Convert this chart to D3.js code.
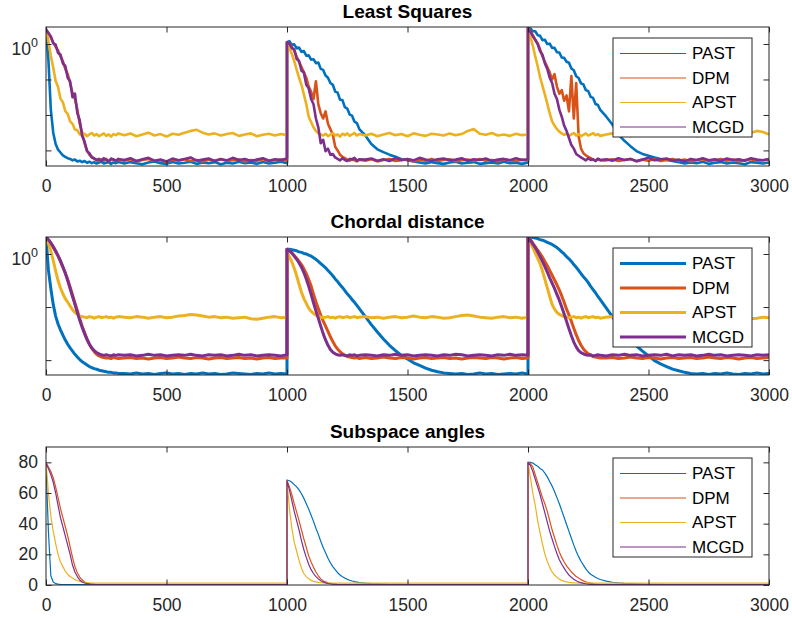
<!DOCTYPE html>
<html>
<head>
<meta charset="utf-8">
<script src="https://cdn.jsdelivr.net/npm/d3@7"></script>
<style>
    html, body { margin: 0; padding: 0; background: #fff; }
    svg { display: block; font-family: "Liberation Sans", Arial, Helvetica, sans-serif; }
    .tick text { font-size: 17.5px; fill: #262626; }
    .tick line { stroke: #262626; }
    .ylab { font-size: 17.5px; fill: #262626; }
    .title { font-size: 19px; font-weight: bold; fill: #000; }
    .legend-label { font-size: 17px; fill: #000; }
</style>
</head>
<body>
<svg id="chart" width="792" height="618"></svg>
<script>
"use strict";

// iteration offsets inside one block of 1000 samples (the subspace jumps at 1000 and 2000)
const blockOffsets = [0, 10, 20, 30, 40, 50, 60, 70, 80, 90, 100, 110, 120, 130, 140, 150, 160, 170, 180, 190, 200,
    210, 220, 230, 240, 250, 260, 270, 280, 290, 300,
    325, 350, 375, 400, 425, 450, 475, 500, 525, 550, 575, 600, 625, 650, 675, 700, 725, 750, 775, 800,
    825, 850, 875, 900, 925, 950, 975, 1000];
const blockStarts = [0, 1000, 2000];
const xTicks = [0, 500, 1000, 1500, 2000, 2500, 3000];
const seriesNames = ["PAST", "DPM", "APST", "MCGD"];
const seriesColors = ["#0072BD", "#D95319", "#EDB120", "#7E2F8E"];

// Least Squares error, log10 values, one row per block
const lsPAST = [
    [0.40, -0.45, -1.85, -2.50, -2.82, -2.98, -3.06, -3.14, -3.18, -3.22, -3.24, -3.28, -3.26, -3.31, -3.29, -3.33, -3.30, -3.35, -3.32, -3.36, -3.33, -3.37, -3.34, -3.32, -3.37, -3.35, -3.33, -3.38, -3.34, -3.36, -3.33,
     -3.37, -3.33, -3.36, -3.39, -3.34, -3.31, -3.36, -3.38, -3.33, -3.37, -3.35, -3.32, -3.38, -3.34, -3.36, -3.33, -3.39, -3.35, -3.37, -3.32, -3.36, -3.34, -3.38, -3.33, -3.37, -3.35, -3.32, -3.36],
    [0.05, 0.08, -0.02, -0.01, -0.12, -0.10, -0.22, -0.20, -0.33, -0.32, -0.44, -0.43, -0.54, -0.52, -0.70, -0.73, -0.89, -0.95, -1.10, -1.15, -1.34, -1.37, -1.57, -1.58, -1.78, -1.82, -1.99, -2.02, -2.19, -2.23, -2.40,
     -2.58, -2.82, -2.97, -3.05, -3.12, -3.18, -3.25, -3.28, -3.31, -3.34, -3.37, -3.33, -3.36, -3.38, -3.34, -3.32, -3.37, -3.35, -3.33, -3.38, -3.36, -3.34, -3.37, -3.32, -3.36, -3.35, -3.38, -3.34],
    [0.45, 0.44, 0.36, 0.36, 0.25, 0.23, 0.11, 0.12, 0.00, 0.01, -0.11, -0.11, -0.23, -0.24, -0.38, -0.39, -0.50, -0.53, -0.69, -0.74, -0.91, -0.96, -1.11, -1.14, -1.30, -1.33, -1.49, -1.52, -1.69, -1.72, -1.86,
     -2.05, -2.27, -2.55, -2.73, -2.88, -3.02, -3.10, -3.15, -3.20, -3.24, -3.27, -3.30, -3.33, -3.37, -3.34, -3.36, -3.32, -3.38, -3.35, -3.33, -3.37, -3.34, -3.36, -3.39, -3.33, -3.35, -3.37, -3.34]
];
const lsDPM = [
    [0.40, 0.32, 0.18, 0.05, -0.08, -0.18, -0.35, -0.48, -0.70, -0.85, -1.10, -1.38, -1.55, -1.85, -2.25, -2.50, -2.80, -3.00, -3.12, -3.18, -3.24, -3.26, -3.30, -3.25, -3.29, -3.24, -3.31, -3.27, -3.25, -3.30, -3.26,
     -3.29, -3.25, -3.31, -3.27, -3.24, -3.30, -3.28, -3.32, -3.26, -3.29, -3.25, -3.30, -3.27, -3.31, -3.26, -3.29, -3.24, -3.30, -3.28, -3.26, -3.31, -3.27, -3.29, -3.25, -3.30, -3.28, -3.26, -3.29],
    [0.05, 0.02, -0.08, -0.18, -0.35, -0.50, -0.65, -0.80, -0.95, -1.20, -1.35, -1.55, -1.05, -1.70, -1.95, -2.10, -1.90, -2.25, -2.40, -2.55, -2.90, -3.00, -3.12, -3.18, -3.22, -3.26, -3.29, -3.24, -3.28, -3.31, -3.26,
     -3.29, -3.25, -3.31, -3.27, -3.24, -3.30, -3.28, -3.25, -3.31, -3.27, -3.29, -3.24, -3.30, -3.27, -3.25, -3.31, -3.28, -3.26, -3.30, -3.24, -3.29, -3.27, -3.31, -3.25, -3.28, -3.30, -3.26, -3.29],
    [0.45, 0.36, 0.25, 0.12, 0.02, -0.15, -0.35, -0.50, -0.65, -0.80, -1.00, -0.85, -1.20, -1.40, -1.30, -1.60, -1.45, -1.90, -0.90, -2.10, -1.10, -2.60, -2.95, -3.08, -3.14, -3.18, -3.22, -3.26, -3.29, -3.25, -3.28,
     -3.28, -3.25, -3.30, -3.27, -3.24, -3.31, -3.26, -3.29, -3.25, -3.30, -3.27, -3.24, -3.29, -3.26, -3.31, -3.27, -3.25, -3.30, -3.28, -3.24, -3.29, -3.26, -3.31, -3.27, -3.25, -3.29, -3.28, -3.26]
];
const lsAPST = [
    [0.42, 0.08, -0.33, -0.66, -1.04, -1.21, -1.54, -1.64, -1.89, -1.97, -2.18, -2.25, -2.41, -2.43, -2.55, -2.55, -2.53, -2.60, -2.55, -2.51, -2.58, -2.54, -2.60, -2.56, -2.52, -2.59, -2.55, -2.61, -2.54, -2.57, -2.52,
     -2.57, -2.52, -2.60, -2.55, -2.50, -2.58, -2.54, -2.61, -2.53, -2.56, -2.50, -2.45, -2.42, -2.50, -2.55, -2.52, -2.58, -2.54, -2.51, -2.59, -2.55, -2.52, -2.60, -2.56, -2.53, -2.58, -2.54, -2.57],
    [0.03, -0.12, -0.28, -0.48, -0.72, -0.95, -1.15, -1.42, -1.70, -2.05, -2.20, -2.35, -2.45, -2.52, -2.55, -2.58, -2.53, -2.60, -2.56, -2.51, -2.58, -2.55, -2.61, -2.53, -2.57, -2.52, -2.59, -2.55, -2.51, -2.58, -2.54,
     -2.58, -2.53, -2.60, -2.55, -2.51, -2.57, -2.54, -2.60, -2.52, -2.56, -2.59, -2.53, -2.55, -2.58, -2.52, -2.57, -2.54, -2.45, -2.40, -2.53, -2.56, -2.51, -2.58, -2.55, -2.59, -2.53, -2.57, -2.55],
    [0.45, 0.20, -0.05, -0.35, -0.62, -0.93, -1.18, -1.42, -1.68, -1.95, -2.18, -2.30, -2.40, -2.47, -2.52, -2.56, -2.53, -2.59, -2.55, -2.51, -2.58, -2.54, -2.60, -2.56, -2.52, -2.58, -2.55, -2.51, -2.57, -2.54, -2.59,
     -2.55, -2.52, -2.58, -2.54, -2.60, -2.53, -2.57, -2.51, -2.56, -2.59, -2.53, -2.55, -2.58, -2.52, -2.56, -2.60, -2.54, -2.57, -2.52, -2.58, -2.55, -2.53, -2.59, -2.54, -2.50, -2.45, -2.48, -2.55]
];
const lsMCGD = [
    [0.42, 0.30, 0.22, 0.02, -0.02, -0.25, -0.30, -0.55, -0.62, -0.95, -1.05, -1.50, -1.40, -1.95, -2.15, -2.60, -2.75, -3.02, -3.08, -3.20, -3.22, -3.28, -3.24, -3.30, -3.22, -3.27, -3.31, -3.23, -3.26, -3.29, -3.24,
     -3.27, -3.22, -3.30, -3.25, -3.21, -3.29, -3.26, -3.31, -3.23, -3.28, -3.24, -3.20, -3.29, -3.26, -3.23, -3.30, -3.25, -3.28, -3.21, -3.27, -3.24, -3.30, -3.26, -3.22, -3.29, -3.25, -3.27, -3.23],
    [0.05, 0.02, -0.12, -0.15, -0.42, -0.48, -0.75, -0.80, -1.15, -1.25, -1.55, -1.70, -2.10, -2.35, -2.80, -2.70, -3.02, -2.95, -3.12, -3.10, -3.20, -3.24, -3.28, -3.22, -3.27, -3.30, -3.24, -3.26, -3.21, -3.29, -3.25,
     -3.26, -3.23, -3.29, -3.25, -3.30, -3.22, -3.27, -3.24, -3.28, -3.21, -3.26, -3.30, -3.25, -3.23, -3.28, -3.26, -3.22, -3.29, -3.25, -3.27, -3.23, -3.30, -3.26, -3.24, -3.28, -3.22, -3.27, -3.25],
    [0.45, 0.35, 0.22, 0.12, 0.00, -0.20, -0.30, -0.55, -0.70, -0.95, -1.10, -1.40, -1.55, -1.85, -2.05, -2.30, -2.45, -2.65, -2.85, -2.95, -3.10, -3.15, -3.20, -3.24, -3.28, -3.22, -3.27, -3.25, -3.30, -3.23, -3.27,
     -3.25, -3.29, -3.22, -3.27, -3.24, -3.30, -3.26, -3.21, -3.28, -3.25, -3.23, -3.29, -3.26, -3.31, -3.24, -3.27, -3.22, -3.28, -3.25, -3.30, -3.23, -3.27, -3.25, -3.29, -3.22, -3.26, -3.28, -3.24]
];

// Chordal distance, log10 values
const cdPAST = [
    [0.32, -0.30, -0.65, -0.95, -1.17, -1.32, -1.43, -1.53, -1.62, -1.70, -1.77, -1.83, -1.89, -1.94, -1.99, -2.03, -2.06, -2.09, -2.12, -2.14, -2.16, -2.17, -2.19, -2.20, -2.21, -2.22, -2.23, -2.23, -2.24, -2.24, -2.25,
     -2.25, -2.26, -2.24, -2.26, -2.25, -2.27, -2.25, -2.24, -2.26, -2.25, -2.27, -2.25, -2.26, -2.24, -2.26, -2.25, -2.27, -2.26, -2.24, -2.25, -2.26, -2.27, -2.25, -2.26, -2.24, -2.26, -2.25, -2.26],
    [0.09, 0.09, 0.08, 0.07, 0.06, 0.04, 0.03, 0.01, 0.00, -0.02, -0.04, -0.07, -0.10, -0.14, -0.18, -0.22, -0.26, -0.31, -0.36, -0.41, -0.47, -0.52, -0.58, -0.63, -0.69, -0.75, -0.80, -0.86, -0.91, -0.97, -1.03,
     -1.18, -1.33, -1.47, -1.60, -1.72, -1.82, -1.91, -1.98, -2.05, -2.10, -2.15, -2.19, -2.22, -2.24, -2.25, -2.26, -2.25, -2.27, -2.26, -2.24, -2.26, -2.25, -2.27, -2.26, -2.25, -2.26, -2.24, -2.26],
    [0.32, 0.32, 0.31, 0.30, 0.29, 0.27, 0.26, 0.24, 0.22, 0.20, 0.18, 0.15, 0.12, 0.08, 0.04, 0.00, -0.05, -0.09, -0.14, -0.20, -0.25, -0.31, -0.37, -0.43, -0.48, -0.54, -0.61, -0.67, -0.73, -0.80, -0.86,
     -1.02, -1.18, -1.34, -1.47, -1.60, -1.73, -1.83, -1.92, -2.01, -2.07, -2.12, -2.17, -2.20, -2.23, -2.25, -2.26, -2.25, -2.27, -2.25, -2.26, -2.24, -2.26, -2.27, -2.25, -2.26, -2.24, -2.26, -2.25]
];
const cdDPM = [
    [0.32, 0.27, 0.20, 0.12, 0.04, -0.04, -0.14, -0.25, -0.36, -0.48, -0.62, -0.77, -0.92, -1.07, -1.22, -1.36, -1.48, -1.60, -1.70, -1.78, -1.84, -1.89, -1.92, -1.94, -1.95, -1.96, -1.96, -1.97, -1.95, -1.96, -1.97,
     -1.96, -1.95, -1.97, -1.96, -1.98, -1.96, -1.95, -1.97, -1.96, -1.94, -1.96, -1.97, -1.95, -1.96, -1.98, -1.96, -1.95, -1.97, -1.96, -1.95, -1.97, -1.96, -1.98, -1.96, -1.95, -1.97, -1.96, -1.96],
    [0.09, 0.06, 0.02, -0.03, -0.08, -0.14, -0.20, -0.28, -0.37, -0.48, -0.60, -0.76, -0.90, -1.03, -1.15, -1.26, -1.36, -1.46, -1.56, -1.65, -1.73, -1.79, -1.84, -1.88, -1.91, -1.93, -1.94, -1.95, -1.96, -1.95, -1.97,
     -1.95, -1.97, -1.96, -1.94, -1.96, -1.97, -1.95, -1.96, -1.98, -1.96, -1.95, -1.97, -1.96, -1.95, -1.97, -1.96, -1.98, -1.96, -1.95, -1.96, -1.97, -1.95, -1.96, -1.98, -1.96, -1.95, -1.97, -1.96],
    [0.32, 0.27, 0.20, 0.14, 0.07, 0.01, -0.06, -0.14, -0.22, -0.31, -0.40, -0.49, -0.58, -0.68, -0.79, -0.91, -1.04, -1.15, -1.27, -1.40, -1.52, -1.63, -1.72, -1.79, -1.84, -1.88, -1.91, -1.93, -1.94, -1.95, -1.96,
     -1.96, -1.95, -1.97, -1.96, -1.94, -1.96, -1.97, -1.95, -1.96, -1.98, -1.96, -1.95, -1.97, -1.96, -1.95, -1.97, -1.96, -1.94, -1.96, -1.97, -1.95, -1.96, -1.98, -1.96, -1.95, -1.97, -1.96, -1.95]
];
const cdAPST = [
    [0.32, 0.20, 0.05, -0.12, -0.32, -0.50, -0.64, -0.75, -0.84, -0.91, -0.98, -1.05, -1.10, -1.14, -1.17, -1.18, -1.19, -1.20, -1.18, -1.19, -1.21, -1.19, -1.18, -1.20, -1.19, -1.18, -1.20, -1.19, -1.21, -1.19, -1.18,
     -1.19, -1.20, -1.18, -1.19, -1.21, -1.19, -1.18, -1.20, -1.19, -1.17, -1.16, -1.14, -1.15, -1.17, -1.19, -1.18, -1.20, -1.19, -1.21, -1.20, -1.19, -1.22, -1.23, -1.21, -1.19, -1.18, -1.20, -1.19],
    [0.03, -0.05, -0.15, -0.27, -0.41, -0.57, -0.72, -0.84, -0.93, -1.02, -1.08, -1.12, -1.15, -1.17, -1.19, -1.20, -1.19, -1.18, -1.20, -1.19, -1.21, -1.19, -1.18, -1.20, -1.19, -1.18, -1.20, -1.19, -1.18, -1.20, -1.19,
     -1.18, -1.20, -1.19, -1.21, -1.19, -1.18, -1.20, -1.19, -1.17, -1.19, -1.20, -1.18, -1.19, -1.21, -1.20, -1.18, -1.16, -1.15, -1.17, -1.19, -1.20, -1.21, -1.19, -1.18, -1.20, -1.19, -1.21, -1.19],
    [0.32, 0.22, 0.12, 0.02, -0.08, -0.18, -0.32, -0.48, -0.64, -0.80, -0.95, -1.04, -1.10, -1.14, -1.16, -1.18, -1.19, -1.20, -1.19, -1.18, -1.20, -1.19, -1.21, -1.19, -1.18, -1.20, -1.19, -1.18, -1.20, -1.19, -1.21,
     -1.19, -1.18, -1.20, -1.19, -1.21, -1.19, -1.18, -1.20, -1.19, -1.18, -1.20, -1.19, -1.21, -1.20, -1.18, -1.19, -1.20, -1.18, -1.19, -1.21, -1.20, -1.19, -1.18, -1.20, -1.22, -1.21, -1.19, -1.20]
];
const cdMCGD = [
    [0.32, 0.27, 0.21, 0.14, 0.06, -0.03, -0.13, -0.24, -0.36, -0.50, -0.65, -0.80, -0.95, -1.10, -1.25, -1.38, -1.50, -1.61, -1.70, -1.77, -1.82, -1.86, -1.88, -1.90, -1.91, -1.90, -1.91, -1.92, -1.90, -1.91, -1.90,
     -1.91, -1.90, -1.92, -1.91, -1.89, -1.91, -1.90, -1.92, -1.91, -1.90, -1.91, -1.89, -1.91, -1.92, -1.90, -1.91, -1.90, -1.92, -1.91, -1.89, -1.91, -1.90, -1.92, -1.91, -1.90, -1.91, -1.92, -1.90],
    [0.09, 0.06, 0.02, -0.04, -0.10, -0.17, -0.25, -0.35, -0.47, -0.61, -0.76, -0.92, -1.07, -1.21, -1.36, -1.50, -1.62, -1.72, -1.80, -1.85, -1.88, -1.90, -1.91, -1.90, -1.91, -1.92, -1.90, -1.91, -1.90, -1.92, -1.91,
     -1.90, -1.91, -1.92, -1.90, -1.91, -1.89, -1.91, -1.90, -1.92, -1.91, -1.90, -1.91, -1.92, -1.90, -1.91, -1.89, -1.90, -1.92, -1.91, -1.90, -1.91, -1.92, -1.90, -1.91, -1.89, -1.91, -1.90, -1.91],
    [0.32, 0.26, 0.19, 0.12, 0.04, -0.05, -0.14, -0.24, -0.34, -0.45, -0.55, -0.65, -0.76, -0.87, -1.00, -1.13, -1.27, -1.41, -1.54, -1.66, -1.75, -1.82, -1.86, -1.88, -1.90, -1.91, -1.90, -1.92, -1.91, -1.90, -1.91,
     -1.92, -1.90, -1.91, -1.89, -1.91, -1.90, -1.92, -1.91, -1.90, -1.91, -1.89, -1.92, -1.90, -1.91, -1.90, -1.92, -1.91, -1.89, -1.91, -1.90, -1.92, -1.91, -1.90, -1.91, -1.92, -1.90, -1.91, -1.90]
];

// Subspace angles, degrees
const saPAST = [
    [78, 35, 6, 2, 0.9, 0.6, 0.4, 0.3, 0.3, 0.3, 0.3, 0.3, 0.3, 0.3, 0.3, 0.3, 0.3, 0.3, 0.3, 0.3, 0.3, 0.3, 0.3, 0.3, 0.3, 0.3, 0.3, 0.3, 0.3, 0.3, 0.3,
     0.3, 0.3, 0.3, 0.3, 0.3, 0.3, 0.3, 0.3, 0.3, 0.3, 0.3, 0.3, 0.3, 0.3, 0.3, 0.3, 0.3, 0.3, 0.3, 0.3, 0.3, 0.3, 0.3, 0.3, 0.3, 0.3, 0.3, 0.3],
    [68.5, 68, 67, 65.5, 64, 62, 59.5, 56.5, 53, 49.5, 45.5, 41.5, 37, 33, 28.5, 24.5, 21, 17.5, 14.5, 12, 10, 8, 6.5, 5.4, 4.5, 3.7, 3.1, 2.6, 2.2, 1.9, 1.6,
     1.2, 0.9, 0.7, 0.55, 0.45, 0.4, 0.35, 0.3, 0.3, 0.3, 0.3, 0.3, 0.3, 0.3, 0.3, 0.3, 0.3, 0.3, 0.3, 0.3, 0.3, 0.3, 0.3, 0.3, 0.3, 0.3, 0.3, 0.3],
    [80, 80, 79.5, 78.5, 77.5, 76, 75, 73, 70.5, 67.5, 64.5, 61, 57, 53, 48.5, 44, 39.5, 35, 30.5, 26, 22, 18.5, 15.5, 13, 10.5, 8.5, 7, 6, 5, 4.2, 3.6,
     2.5, 1.8, 1.4, 1.1, 0.9, 0.7, 0.55, 0.45, 0.4, 0.35, 0.3, 0.3, 0.3, 0.3, 0.3, 0.3, 0.3, 0.3, 0.3, 0.3, 0.3, 0.3, 0.3, 0.3, 0.3, 0.3, 0.3, 0.3]
];
const saDPM = [
    [80, 77, 74, 70, 64, 57, 50, 44, 38, 32, 25, 18, 12, 8, 5.2, 3.4, 2, 1.3, 0.9, 0.6, 0.45, 0.35, 0.3, 0.3, 0.3, 0.3, 0.3, 0.3, 0.3, 0.3, 0.3,
     0.3, 0.3, 0.3, 0.3, 0.3, 0.3, 0.3, 0.3, 0.3, 0.3, 0.3, 0.3, 0.3, 0.3, 0.3, 0.3, 0.3, 0.3, 0.3, 0.3, 0.3, 0.3, 0.3, 0.3, 0.3, 0.3, 0.3, 0.3],
    [68, 64, 59, 53, 47.5, 42, 36, 30, 24.5, 19, 15, 11.5, 8.5, 6, 4, 2.8, 2, 1.4, 1, 0.7, 0.5, 0.4, 0.3, 0.3, 0.3, 0.3, 0.3, 0.3, 0.3, 0.3, 0.3,
     0.3, 0.3, 0.3, 0.3, 0.3, 0.3, 0.3, 0.3, 0.3, 0.3, 0.3, 0.3, 0.3, 0.3, 0.3, 0.3, 0.3, 0.3, 0.3, 0.3, 0.3, 0.3, 0.3, 0.3, 0.3, 0.3, 0.3, 0.3],
    [80, 79, 77, 72, 67, 62, 57, 53, 48, 42, 36, 31, 26, 21.5, 18, 15, 12.5, 10.5, 8.5, 7, 5.5, 4.5, 3.5, 2.7, 2.1, 1.6, 1.2, 0.9, 0.7, 0.5, 0.4,
     0.3, 0.3, 0.3, 0.3, 0.3, 0.3, 0.3, 0.3, 0.3, 0.3, 0.3, 0.3, 0.3, 0.3, 0.3, 0.3, 0.3, 0.3, 0.3, 0.3, 0.3, 0.3, 0.3, 0.3, 0.3, 0.3, 0.3, 0.3]
];
const saAPST = [
    [80, 60, 45, 35, 27, 20, 15, 12, 9, 7, 5.5, 4.5, 3.5, 2.8, 2.3, 2, 1.7, 1.5, 1.4, 1.3, 1.25, 1.2, 1.2, 1.2, 1.2, 1.2, 1.2, 1.2, 1.2, 1.2, 1.2,
     1.2, 1.2, 1.2, 1.2, 1.2, 1.2, 1.2, 1.2, 1.2, 1.2, 1.2, 1.2, 1.2, 1.2, 1.2, 1.2, 1.2, 1.2, 1.2, 1.2, 1.2, 1.2, 1.2, 1.2, 1.2, 1.2, 1.2, 1.2],
    [68, 50, 37, 28, 22, 16, 11, 7.5, 5.5, 4, 3, 2.4, 2, 1.7, 1.5, 1.4, 1.3, 1.25, 1.2, 1.2, 1.2, 1.2, 1.2, 1.2, 1.2, 1.2, 1.2, 1.2, 1.2, 1.2, 1.2,
     1.2, 1.2, 1.2, 1.2, 1.2, 1.2, 1.2, 1.2, 1.2, 1.2, 1.2, 1.2, 1.2, 1.2, 1.2, 1.2, 1.2, 1.2, 1.2, 1.2, 1.2, 1.2, 1.2, 1.2, 1.2, 1.2, 1.2, 1.2],
    [80, 70, 60, 52, 42, 34, 27, 20, 15.5, 11.5, 8.5, 6.5, 5, 3.8, 3, 2.4, 2, 1.7, 1.5, 1.4, 1.3, 1.25, 1.2, 1.2, 1.2, 1.2, 1.2, 1.2, 1.2, 1.2, 1.2,
     1.2, 1.2, 1.2, 1.2, 1.2, 1.2, 1.2, 1.2, 1.2, 1.2, 1.2, 1.2, 1.2, 1.2, 1.2, 1.2, 1.2, 1.2, 1.2, 1.2, 1.2, 1.2, 1.2, 1.2, 1.2, 1.2, 1.2, 1.2]
];
const saMCGD = [
    [79, 76, 72, 67, 60, 52, 44, 38, 32, 26, 20, 13, 8.5, 5.5, 3.2, 2, 1.3, 0.9, 0.6, 0.45, 0.35, 0.3, 0.3, 0.3, 0.3, 0.3, 0.3, 0.3, 0.3, 0.3, 0.3,
     0.3, 0.3, 0.3, 0.3, 0.3, 0.3, 0.3, 0.3, 0.3, 0.3, 0.3, 0.3, 0.3, 0.3, 0.3, 0.3, 0.3, 0.3, 0.3, 0.3, 0.3, 0.3, 0.3, 0.3, 0.3, 0.3, 0.3, 0.3],
    [68, 62, 55, 48, 42, 36, 29, 23, 18, 13.5, 10, 7.5, 5.5, 4, 2.8, 2, 1.4, 1, 0.7, 0.5, 0.4, 0.3, 0.3, 0.3, 0.3, 0.3, 0.3, 0.3, 0.3, 0.3, 0.3,
     0.3, 0.3, 0.3, 0.3, 0.3, 0.3, 0.3, 0.3, 0.3, 0.3, 0.3, 0.3, 0.3, 0.3, 0.3, 0.3, 0.3, 0.3, 0.3, 0.3, 0.3, 0.3, 0.3, 0.3, 0.3, 0.3, 0.3, 0.3],
    [80, 78, 74, 69, 64, 59, 53, 47, 41, 35, 30, 25, 20.5, 16.5, 13.5, 11, 8.5, 6.5, 5, 3.8, 2.8, 2, 1.5, 1.1, 0.8, 0.6, 0.45, 0.35, 0.3, 0.3, 0.3,
     0.3, 0.3, 0.3, 0.3, 0.3, 0.3, 0.3, 0.3, 0.3, 0.3, 0.3, 0.3, 0.3, 0.3, 0.3, 0.3, 0.3, 0.3, 0.3, 0.3, 0.3, 0.3, 0.3, 0.3, 0.3, 0.3, 0.3, 0.3]
];

/**
 * One MATLAB-looking subplot: boxed axes, inward ticks, legend in the top right corner.
 * @class
 */
class ConvergencePanel {

    /**
     * @param svg {*} d3 selection of the root svg
     * @param opts {*}
     */
    constructor(svg, opts) {
        this.svg = svg;
        this.opts = opts;
        this.left = 46;
        this.right = 769;
        this.x = d3.scaleLinear().domain([0, 3000]).range([this.left, this.right]);
        if (opts.log) {
            this.y = d3.scaleLog()
                .domain([Math.pow(10, opts.expRange[0]), Math.pow(10, opts.expRange[1])])
                .range([opts.bottom, opts.top]);
        } else {
            this.y = d3.scaleLinear().domain(opts.domain).range([opts.bottom, opts.top]);
        }
    }

    /**
     * joins the three blocks of a series with their iteration numbers
     * @param blocks {number[][]}
     */
    points(blocks) {
        const pts = [];
        blocks.forEach((row, b) => {
            if (row.length !== blockOffsets.length) {
                throw new Error(`${this.opts.title}: block ${b} has ${row.length} values`);
            }
            row.forEach((v, i) => {
                pts.push([blockStarts[b] + blockOffsets[i], this.opts.log ? Math.pow(10, v) : v]);
            });
        });
        return pts;
    }

    draw() {
        const o = this.opts;
        const svg = this.svg;
        const g = svg.append("g");
        const x = this.x, y = this.y;
        const tick = 5.5;

        const clipId = `clip-${o.id}`;
        svg.append("clipPath").attr("id", clipId).append("rect")
            .attr("x", this.left).attr("y", o.top)
            .attr("width", this.right - this.left).attr("height", o.bottom - o.top);

        // series, drawn in legend order so MCGD ends up on top
        const line = d3.line().x(d => x(d[0])).y(d => y(d[1]));
        const lines = g.append("g").attr("clip-path", `url(#${clipId})`);
        o.series.forEach((s, i) => {
            lines.append("path")
                .attr("d", line(this.points(s)))
                .attr("fill", "none")
                .attr("stroke", seriesColors[i])
                .attr("stroke-width", o.lineWidth)
                .attr("stroke-linejoin", "round");
        });

        // x axes (labels below, bare ticks on top)
        g.append("g").attr("transform", `translate(0,${o.bottom})`)
            .call(d3.axisBottom(x).tickValues(xTicks).tickFormat(d3.format("d"))
                .tickSizeInner(-tick).tickSizeOuter(0).tickPadding(13.5))
            .call(a => a.select(".domain").remove());
        g.append("g").attr("transform", `translate(0,${o.top})`)
            .call(d3.axisTop(x).tickValues(xTicks).tickSizeInner(-tick).tickSizeOuter(0).tickFormat(""))
            .call(a => a.select(".domain").remove());

        // y axes
        const yFmt = o.log ? "" : d3.format("d");
        g.append("g").attr("transform", `translate(${this.left},0)`)
            .call(d3.axisLeft(y).tickValues(o.yTicks).tickSizeInner(-tick).tickSizeOuter(0).tickPadding(8).tickFormat(yFmt))
            .call(a => a.select(".domain").remove());
        g.append("g").attr("transform", `translate(${this.right},0)`)
            .call(d3.axisRight(y).tickValues(o.yTicks).tickSizeInner(-tick).tickSizeOuter(0).tickFormat(""))
            .call(a => a.select(".domain").remove());

        if (o.log) {
            // only the 10^0 decade carries a label
            const lab = g.append("text").attr("class", "ylab")
                .attr("x", 38).attr("y", y(1) + 11).attr("text-anchor", "end");
            lab.append("tspan").text("10");
            lab.append("tspan").attr("dy", -8).style("font-size", "12.5px").text("0");
        }

        // box
        g.append("rect")
            .attr("x", this.left).attr("y", o.top)
            .attr("width", this.right - this.left).attr("height", o.bottom - o.top)
            .attr("fill", "none").attr("stroke", "#262626").attr("stroke-width", 1);

        g.append("text").attr("class", "title")
            .attr("x", (this.left + this.right) / 2).attr("y", o.top - 9)
            .attr("text-anchor", "middle").text(o.title);

        // legend
        const lg = g.append("g").attr("transform", `translate(613,${o.top + 11})`);
        lg.append("rect").attr("width", 139).attr("height", 99)
            .attr("fill", "#fff").attr("stroke", "#262626").attr("stroke-width", 1);
        seriesNames.forEach((name, i) => {
            const ly = 15.5 + i * 24.5;
            lg.append("line").attr("x1", 7).attr("x2", 73).attr("y1", ly).attr("y2", ly)
                .attr("stroke", seriesColors[i]).attr("stroke-width", o.legendWidth);
            lg.append("text").attr("class", "legend-label")
                .attr("x", 79).attr("y", ly).attr("dy", "0.35em").text(name);
        });
    }
}

const svg = d3.select("#chart");

new ConvergencePanel(svg, {
    id: "ls", title: "Least Squares", top: 27, bottom: 166,
    log: true, expRange: [-3.44, 0.48], yTicks: [1e-3, 1e-2, 1e-1, 1],
    series: [lsPAST, lsDPM, lsAPST, lsMCGD], lineWidth: 2.6, legendWidth: 1.2
}).draw();

new ConvergencePanel(svg, {
    id: "cd", title: "Chordal distance", top: 237, bottom: 375,
    log: true, expRange: [-2.28, 0.32], yTicks: [1e-2, 1e-1, 1],
    series: [cdPAST, cdDPM, cdAPST, cdMCGD], lineWidth: 3, legendWidth: 3
}).draw();

new ConvergencePanel(svg, {
    id: "sa", title: "Subspace angles", top: 447, bottom: 585,
    log: false, domain: [0, 90], yTicks: [0, 20, 40, 60, 80],
    series: [saPAST, saDPM, saAPST, saMCGD], lineWidth: 1.2, legendWidth: 1.2
}).draw();
</script>
</body>
</html>
